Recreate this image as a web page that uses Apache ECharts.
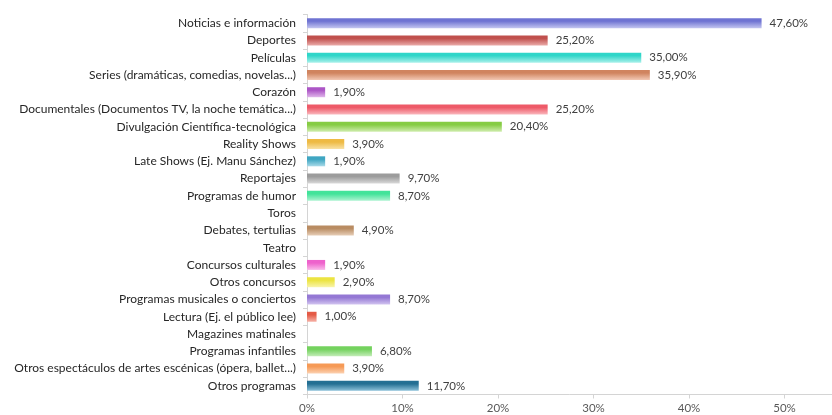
<!DOCTYPE html>
<html>
<head>
<meta charset="utf-8">
<script src="https://cdn.jsdelivr.net/npm/echarts@6/dist/echarts.min.js"></script>
<style>
  html, body { margin: 0; padding: 0; background: #ffffff; overflow: hidden; }
  #chart { width: 832px; height: 415px; }
</style>
</head>
<body>
<div id="chart"></div>
<script>
// Programme types and share of respondents (%)
const categories = [
  'Noticias e información',
  'Deportes',
  'Películas',
  'Series (dramáticas, comedias, novelas...)',
  'Corazón',
  'Documentales (Documentos TV, la noche temática...)',
  'Divulgación Científica-tecnológica',
  'Reality Shows',
  'Late Shows (Ej. Manu Sánchez)',
  'Reportajes',
  'Programas de humor',
  'Toros',
  'Debates, tertulias',
  'Teatro',
  'Concursos culturales',
  'Otros concursos',
  'Programas musicales o conciertos',
  'Lectura (Ej. el público lee)',
  'Magazines matinales',
  'Programas infantiles',
  'Otros espectáculos de artes escénicas (ópera, ballet...)',
  'Otros programas'
];
const values = [47.6, 25.2, 35.0, 35.9, 1.9, 25.2, 20.4, 3.9, 1.9, 9.7, 8.7, 0, 4.9, 0, 1.9, 2.9, 8.7, 1.0, 0, 6.8, 3.9, 11.7];
const xTicks = [0, 10, 20, 30, 40, 50, 60];

// Per-bar colour pairs: darker top edge, lighter lower body
const barColors = [
  ['#6f73d2', '#c3c5f0'],
  ['#c0504d', '#eaaaa8'],
  ['#2fd6c9', '#a9f0ea'],
  ['#d0845f', '#f2c8b4'],
  ['#ac56c6', '#e0b6ea'],
  ['#ee5a68', '#fab7bd'],
  ['#86cc44', '#d0edaf'],
  ['#eeba44', '#f9e2a6'],
  ['#3fa6c2', '#a9dae8'],
  ['#9c9c9c', '#dadada'],
  ['#42e39a', '#aef3d2'],
  ['#cccccc', '#eeeeee'],
  ['#b98c62', '#e6cdb6'],
  ['#cccccc', '#eeeeee'],
  ['#ee62cc', '#fabbea'],
  ['#ece442', '#f9f4ab'],
  ['#9478d4', '#d2c4f0'],
  ['#e45a46', '#f7b3a8'],
  ['#cccccc', '#eeeeee'],
  ['#74d25e', '#c3ecb8'],
  ['#f69a56', '#fcd2b3'],
  ['#246f93', '#8ec2da']
];

const fontFamily = 'Lato, "Open Sans", sans-serif';

const chart = echarts.init(document.getElementById('chart'), null, { renderer: 'canvas' });

chart.setOption({
  animation: false,
  backgroundColor: '#ffffff',
  // the axis runs to 60%, past the right edge of the canvas
  grid: {
    left: 307, width: 573, top: 14.5, bottom: 20.5,
    containLabel: false,
    outerBoundsMode: 'none'
  },
  xAxis: {
    type: 'value',
    min: xTicks[0],
    max: xTicks[xTicks.length - 1],
    interval: 10,
    axisLine: { show: true, lineStyle: { color: '#d4d4d4', width: 1 } },
    axisTick: { show: true, length: 4, lineStyle: { color: '#d4d4d4' } },
    splitLine: { show: false },
    axisLabel: {
      color: '#595959',
      fontFamily: fontFamily,
      fontSize: 11.5,
      margin: 8,
      formatter: v => v + '%'
    }
  },
  yAxis: {
    type: 'category',
    data: categories,
    inverse: true,
    axisLine: { show: true, lineStyle: { color: '#d4d4d4', width: 1 } },
    axisTick: { show: true, length: 4, alignWithLabel: false, lineStyle: { color: '#d4d4d4' } },
    axisLabel: {
      color: '#262626',
      fontFamily: fontFamily,
      fontSize: 12,
      margin: 11,
      interval: 0
    }
  },
  series: [{
    type: 'bar',
    barWidth: 10,
    data: values.map((v, i) => ({
      value: v,
      itemStyle: {
        color: new echarts.graphic.LinearGradient(0, 0, 0, 1, [
          { offset: 0, color: barColors[i][0] },
          { offset: 0.3, color: barColors[i][0] },
          { offset: 1, color: barColors[i][1] }
        ])
      }
    })),
    label: {
      show: true,
      position: 'right',
      distance: 8,
      color: '#404040',
      fontFamily: fontFamily,
      fontSize: 11.5,
      formatter: p => p.value > 0 ? p.value.toFixed(2).replace('.', ',') + '%' : ''
    }
  }]
});
</script>
</body>
</html>
